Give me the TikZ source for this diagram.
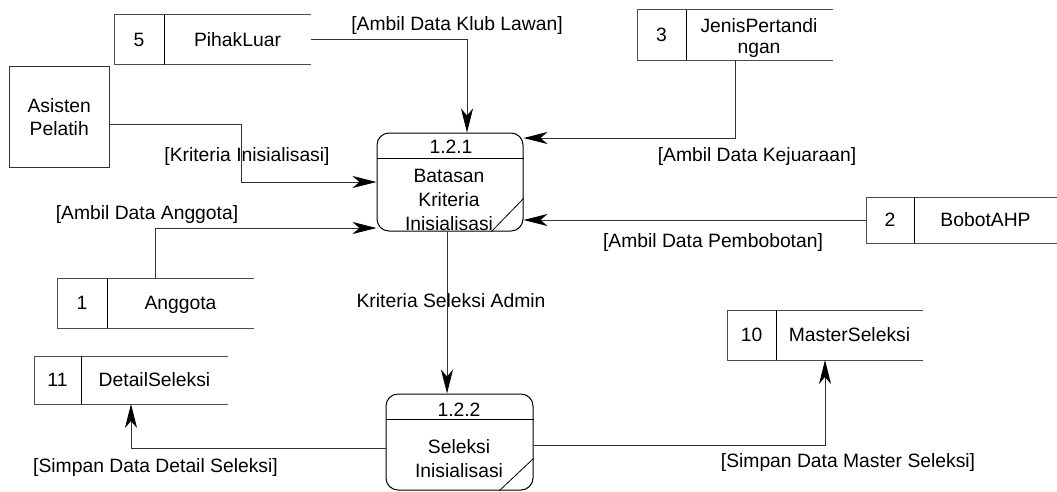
\documentclass[tikz,border=0pt]{standalone}
\usepackage{fontspec}
\setmainfont{Liberation Sans}
\usetikzlibrary{arrows.meta}
\tikzset{
  txt/.style={font=\fontsize{19.3}{24}\selectfont, inner sep=0pt, align=center},
  txtone/.style={txt, text height=13.8pt, text depth=0pt},
  flow/.style={draw=black!80, line width=1pt, -{Stealth[length=24pt,width=12pt,inset=7pt,fill=black,color=black]}},
  storeline/.style={draw=black!70, line width=1pt},
  procbox/.style={draw=black, line width=1pt, rounded corners=12pt, inner sep=0pt},
  entitybox/.style={draw=black!80, line width=1pt, inner sep=0pt, align=center, font=\fontsize{19.3}{23}\selectfont},
  anchorbox/.style={inner sep=0pt, outer sep=0pt},
}
\newcommand\mkstore[8]{%
  \node[anchorbox, anchor=north west, minimum width={#5-#2}, minimum height={#6-#3}] (#1) at (#2,#3) {};
  \draw[storeline] (#1.north east) -- (#1.north west) -- (#1.south west) -- (#1.south east);
  \draw[storeline, draw=black] (#4,#3) -- (#4,#6);
  \node[txtone] (#1-num) at ({(#2+#4)/2},{(#3+#6)/2}) {#7};
  \node[txtone] (#1-name) at ({(#4+#5)/2},{(#3+#6)/2}) {#8};
}
\begin{document}
\begin{tikzpicture}[x=1pt,y=-1pt]
\useasboundingbox (0,0) rectangle (1057,491);

% data stores
\mkstore{s5}{114}{14.5}{164}{311}{64.5}{5}{PihakLuar}
\mkstore{s2}{866}{197}{914}{1057}{243}{2}{BobotAHP}
\mkstore{s1}{57}{278}{107}{254}{328}{1}{Anggota}
\mkstore{s11}{34}{356}{81}{228}{404}{11}{DetailSeleksi}
\mkstore{s10}{727}{310}{776}{923}{360}{10}{MasterSeleksi}
% store 3 with two-line name
\node[anchorbox, anchor=north west, minimum width=196, minimum height=50.5] (s3) at (637,9.5) {};
\draw[storeline] (s3.north east) -- (s3.north west) -- (s3.south west) -- (s3.south east);
\draw[storeline, draw=black] (686,9.5) -- (686,60);
\node[txtone] (s3-num) at (661.5,35) {3};
\node[txt, font=\fontsize{19.3}{21}\selectfont] (s3-name) at (759,38.5) {JenisPertandi\\ngan};

% external entity
\node[entitybox, minimum width=99.5, minimum height=100.5] (asis) at (59.25,116.75) {Asisten\\Pelatih};

% process 1.2.1
\node[procbox, minimum width=146, minimum height=98] (p1) at (450,182) {};
\draw[line width=1pt] ([yshift=-26pt]p1.north west) -- ([yshift=-26pt]p1.north east);
\draw[line width=0.8pt] ([yshift=33pt]p1.south east) -- ([xshift=-32pt]p1.south east);
\node[txtone] (p1-id) at (451,147) {1.2.1};
\node[txt] (p1-name) at (449,200) {Batasan\\Kriteria\\Inisialisasi};

% process 1.2.2
\node[procbox, minimum width=147, minimum height=96] (p2) at (459.5,442) {};
\draw[line width=1pt] ([yshift=-25.5pt]p2.north west) -- ([yshift=-25.5pt]p2.north east);
\draw[line width=0.8pt] ([yshift=32pt]p2.south east) -- ([xshift=-34pt]p2.south east);
\node[txtone] (p2-id) at (459,410) {1.2.2};
\node[txt] (p2-name) at (459,459) {Seleksi\\Inisialisasi};

% flows
\draw[flow] (s5.east) -| ([xshift=17pt]p1.north);
\draw[flow] ([yshift=-7.25pt]asis.east) -| ([xshift=-135pt]p1.west) -- (p1.west);
\draw[flow] (s1.north) |- ([yshift=-46pt]p1.west);
\draw[flow] (s3.south) |- ([yshift=44pt]p1.east);
\draw[flow] (s2.west) -- (s2.west -| p1.east);
\draw[flow] ([xshift=-3pt]p1.south) -- ([xshift=-3pt]p1.south |- p2.north);
\draw[flow] ([yshift=-6pt]p2.west) -| (s11.south);
\draw[flow] ([yshift=-3pt]p2.east) -| (s10.south);

% flow labels
\node[txtone] (l-klub) at (457,24) {[Ambil Data Klub Lawan]};
\node[txtone] (l-krit) at (247,155) {[Kriteria Inisialisasi]};
\node[txtone] (l-angg) at (147,213) {[Ambil Data Anggota]};
\node[txtone] (l-kej) at (757,155) {[Ambil Data Kejuaraan]};
\node[txtone] (l-bobot) at (713,241) {[Ambil Data Pembobotan]};
\node[txtone] (l-admin) at (451,301) {Kriteria Seleksi Admin};
\node[txtone] (l-detail) at (155.5,466) {[Simpan Data Detail Seleksi]};
\node[txtone] (l-master) at (848,461) {[Simpan Data Master Seleksi]};
\end{tikzpicture}
\end{document}
